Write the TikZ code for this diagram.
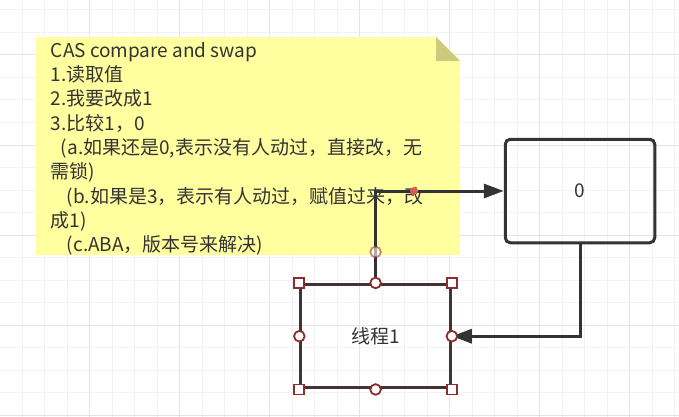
\documentclass[tikz,border=0pt]{standalone}
\usepackage{fontspec}
\setmainfont{Noto Sans CJK SC}
\usetikzlibrary{arrows.meta}
\definecolor{notefill}{HTML}{FFFFA0}
\definecolor{notefold}{HTML}{CDCB7B}
\definecolor{gridminor}{HTML}{F2F2F2}
\definecolor{gridmajor}{HTML}{E4E4E4}
\definecolor{edgecol}{HTML}{333333}
\definecolor{handlecol}{HTML}{8B2E2E}
\definecolor{waypt}{HTML}{E05A5A}
\definecolor{txt}{HTML}{333333}
\tikzset{
  gminor/.style={draw=gridminor, line width=1pt},
  gmajor/.style={draw=gridmajor, line width=1pt},
  txtfont/.style={font=\fontsize{19}{24.3}\selectfont, text=txt},
  box/.style={draw=edgecol, line width=3pt, minimum width=149.5pt, minimum height=103.5pt, inner sep=0pt, txtfont},
  conn/.style={draw=edgecol, line width=3pt, -{Triangle[length=20pt,width=14pt]}},
  hsq/.style={draw=handlecol, fill=white, line width=1.8pt, minimum size=10pt, inner sep=0pt, rectangle},
  hci/.style={draw=handlecol, fill=white, line width=1.8pt, minimum size=10.6pt, inner sep=0pt, circle},
}
\begin{document}
\begin{tikzpicture}[x=1pt,y=-1pt]
\useasboundingbox (0,0) rectangle (679,417);
\fill[white] (0,0) rectangle (679,417);
% grid
\foreach \i in {1,...,30} {\draw[gminor] ({-0.5+22.5*\i},0) -- ++(0,417);}
\foreach \j in {0,...,18} {\draw[gminor] (0,{10+22.5*\j}) -- ++(679,0);}
\foreach \i in {1,...,7} {\draw[gmajor] ({-0.5+90*\i},0) -- ++(0,417);}
\foreach \j in {0,...,4} {\draw[gmajor] (0,{55+90*\j}) -- ++(679,0);}
% note
\fill[notefill] (36,37) -- (436,37) -- (460,61) -- (460,255) -- (36,255) -- cycle;
\fill[notefold] (436,37) -- (436,61) -- (460,61) -- cycle;
\node[txtfont, align=left, anchor=base west, inner sep=0pt] (notetext) at (50.7,251.7)
  {CAS compare and swap\\
   1.读取值\\
   2.我要改成1\\
   3.比较1，0\\
   \hspace*{10pt}(a.如果还是0,表示没有人动过，直接改，无\\
   需锁)\\
   \hspace*{16pt}(b.如果是3，表示有人动过，赋值过来，改\\
   成1)\\
   \hspace*{16pt}(c.ABA，版本号来解决)};
% boxes
\node[box, rounded corners=5pt] (zero) at (580,191) {0};
\node[box, draw=edgecol!80!handlecol] (thread) at (375.6,336.2) {线程1};
% connectors
\draw[conn] (thread.north) |- (zero.west);
\draw[conn] (zero.south) |- (thread.east);
% selection handles
\foreach \a/\n in {north west/nw, north east/ne, south west/sw, south east/se}
  {\node[hsq] (h\n) at (thread.\a) {};}
\foreach \a/\n in {north/n, south/s, east/e, west/w}
  {\node[hci] (c\n) at (thread.\a) {};}
\node[hci, opacity=0.55, fill opacity=0.6] (cterm) at ([yshift=31pt]thread.north) {};
\node[circle, fill=waypt, minimum size=8pt, inner sep=0pt] (wp) at (414,191) {};
\end{tikzpicture}
\end{document}
